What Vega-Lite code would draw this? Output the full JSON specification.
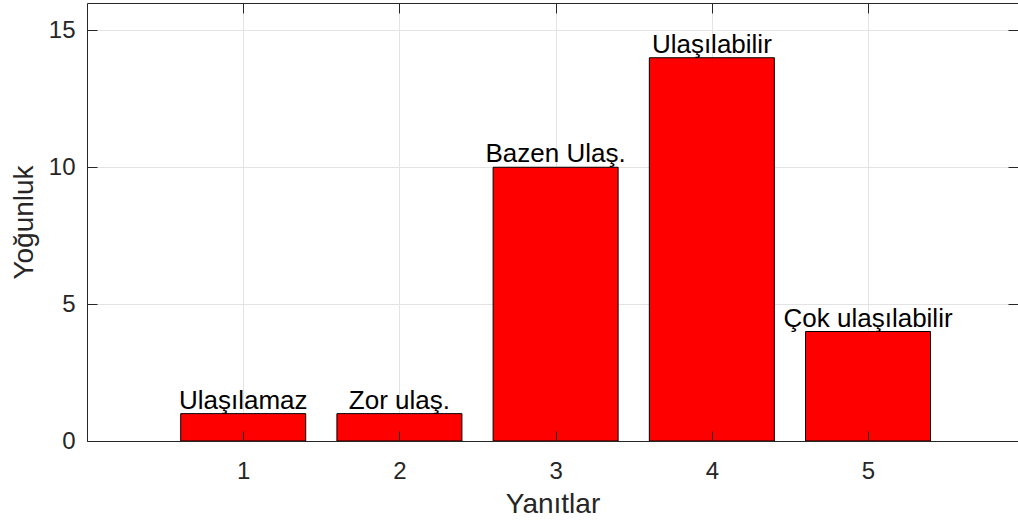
{
  "$schema": "https://vega.github.io/schema/vega-lite/v6.json",
  "autosize": "none",
  "padding": {"left": 87, "top": 3, "right": 0, "bottom": 83},
  "width": 931,
  "height": 438,
  "background": "white",
  "config": {
    "view": {"stroke": null},
    "font": "Liberation Sans",
    "axis": {"labelFont": "Liberation Sans", "titleFont": "Liberation Sans", "labelColor": "#262626", "titleColor": "#262626", "domainColor": "#262626", "tickColor": "#262626", "gridColor": "#e3e3e3", "gridOpacity": 1, "labelFontSize": 24, "titleFontSize": 28, "titleFontWeight": "normal"}
  },
  "data": {"values": [
    {"Yanit": 1, "Yogunluk": 1, "Etiket": "Ulaşılamaz"},
    {"Yanit": 2, "Yogunluk": 1, "Etiket": "Zor ulaş."},
    {"Yanit": 3, "Yogunluk": 10, "Etiket": "Bazen Ulaş."},
    {"Yanit": 4, "Yogunluk": 14, "Etiket": "Ulaşılabilir"},
    {"Yanit": 5, "Yogunluk": 4, "Etiket": "Çok ulaşılabilir"}
  ]},
  "layer": [
    {
      "mark": {"type": "bar", "width": 125, "color": "#ff0000", "stroke": "#000000", "strokeWidth": 1},
      "encoding": {
        "x": {"field": "Yanit", "type": "quantitative", "scale": {"domain": [0, 5.96], "nice": false, "zero": false, "padding": 0},
          "axis": {"orient": "bottom", "grid": true, "ticks": false, "labels": false, "domain": false, "title": null, "values": [1, 2, 3, 4, 5], "zindex": 0}},
        "y": {"field": "Yogunluk", "type": "quantitative", "scale": {"domain": [0, 16], "nice": false, "padding": 0},
          "axis": {"orient": "left", "grid": true, "ticks": false, "labels": false, "domain": false, "title": null, "values": [0, 5, 10, 15], "zindex": 0}}
      }
    },
    {
      "mark": {"type": "text", "baseline": "alphabetic", "align": "center", "dy": -5, "fontSize": 26, "color": "#000000", "font": "Liberation Sans"},
      "encoding": {
        "x": {"field": "Yanit", "type": "quantitative", "axis": null},
        "y": {"field": "Yogunluk", "type": "quantitative", "axis": null},
        "text": {"field": "Etiket"}
      }
    },
    {
      "mark": {"type": "point", "opacity": 0, "size": 0},
      "encoding": {
        "x": {"field": "Yanit", "type": "quantitative",
          "axis": {"orient": "bottom", "grid": false, "values": [1, 2, 3, 4, 5], "tickSize": -10, "labelPadding": 28, "title": "Yanıtlar", "titleBaseline": "alphabetic", "titleY": 71, "zindex": 1}},
        "y": {"field": "Yogunluk", "type": "quantitative",
          "axis": {"orient": "left", "grid": false, "values": [0, 5, 10, 15], "tickSize": -10, "labelPadding": 22, "title": "Yoğunluk", "titleBaseline": "alphabetic", "titleX": -55, "zindex": 1}}
      }
    },
    {
      "mark": {"type": "point", "opacity": 0, "size": 0},
      "encoding": {
        "x": {"field": "Yanit", "type": "quantitative",
          "axis": {"orient": "top", "grid": false, "labels": false, "values": [1, 2, 3, 4, 5], "tickSize": -10, "title": null, "zindex": 1}},
        "y": {"field": "Yogunluk", "type": "quantitative",
          "axis": {"orient": "right", "grid": false, "labels": false, "values": [0, 5, 10, 15], "tickSize": -10, "title": null, "zindex": 1}}
      }
    }
  ],
  "resolve": {"axis": {"x": "independent", "y": "independent"}}
}
